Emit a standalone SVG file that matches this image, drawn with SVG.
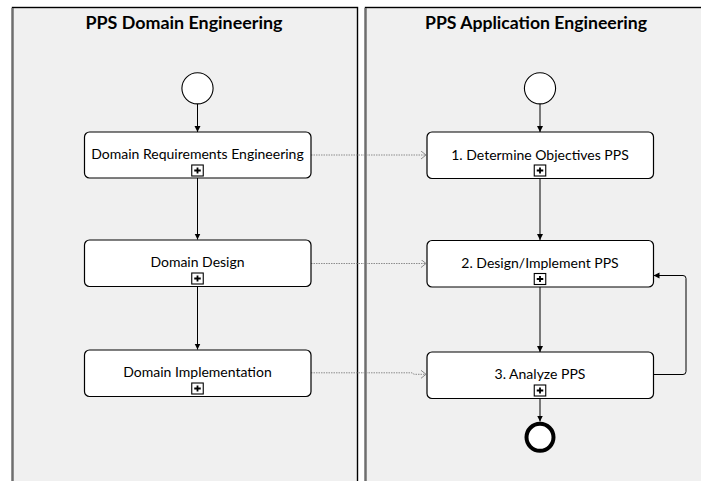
<svg xmlns="http://www.w3.org/2000/svg" width="701" height="481" viewBox="0 0 701 481">
  <style>
    .pool { fill: #f0f0f0; stroke: #000; stroke-width: 1.4; }
    .pool-edge { stroke: #6e6e6e; stroke-width: 2.2; fill: none; }
    .title { font-family: Lato, "Liberation Sans", sans-serif; font-weight: bold; font-size: 16.5px; fill: #000; text-anchor: middle; }
    .task rect.body { fill: #fff; stroke: #000; stroke-width: 1.2; }
    .task text { font-family: Lato, "Liberation Sans", sans-serif; font-size: 14px; fill: #000; text-anchor: middle; }
    .plus rect { fill: #fff; stroke: #000; stroke-width: 1.1; }
    .plus path { stroke: #000; stroke-width: 1.8; fill: none; }
    .flow { stroke: #000; stroke-width: 1; fill: none; marker-end: url(#arrow); }
    .assoc { stroke: #8c8c8c; stroke-width: 1; stroke-dasharray: 1.5 1; fill: none; marker-end: url(#chevron); }
    .start { fill: #fff; stroke: #000; stroke-width: 1.1; }
    .end { fill: #fff; stroke: #000; stroke-width: 4; }
  </style>
  <defs>
    <marker id="arrow" markerWidth="8" markerHeight="8" refX="6" refY="3" orient="auto" markerUnits="userSpaceOnUse">
      <path d="M0,0 L6,3 L0,6 Z" fill="#000"/>
    </marker>
    <marker id="chevron" markerWidth="8" markerHeight="10" refX="5" refY="4" orient="auto" markerUnits="userSpaceOnUse">
      <path d="M0,0 L5,4 L0,8" fill="none" stroke="#8c8c8c" stroke-width="1"/>
    </marker>
    <g id="plus-icon" class="plus">
      <rect x="0" y="0" width="11.5" height="11"/>
      <path d="M2.5,5.5 H9 M5.75,2.5 V8.5"/>
    </g>
  </defs>

  <!-- pools -->
  <g id="pool-domain">
    <rect class="pool" x="12.5" y="7.5" width="345" height="490"/>
    <line class="pool-edge" x1="12.5" y1="8" x2="12.5" y2="481"/>
    <text class="title" x="184" y="29" textLength="197" lengthAdjust="spacingAndGlyphs">PPS Domain Engineering</text>
  </g>
  <g id="pool-application">
    <rect class="pool" x="365.5" y="7.5" width="350" height="490"/>
    <line class="pool-edge" x1="365.5" y1="8" x2="365.5" y2="481"/>
    <text class="title" x="536" y="29" textLength="222" lengthAdjust="spacingAndGlyphs">PPS Application Engineering</text>
  </g>

  <!-- connectors -->
  <g id="connectors">
    <line class="flow" x1="197.5" y1="104" x2="197.5" y2="132"/>
    <line class="flow" x1="197.5" y1="178" x2="197.5" y2="239.5"/>
    <line class="flow" x1="197.5" y1="287" x2="197.5" y2="349.5"/>

    <line class="flow" x1="540" y1="104" x2="540" y2="132"/>
    <line class="flow" x1="540" y1="179" x2="540" y2="240"/>
    <line class="flow" x1="540" y1="287" x2="540" y2="352"/>
    <line class="flow" x1="540" y1="398.5" x2="540" y2="421.5"/>
    <path class="flow" d="M653,374.5 H683 Q686,374.5 686,371.5 V278.5 Q686,275.5 683,275.5 H653.5"/>

    <line class="assoc" x1="311" y1="155" x2="426" y2="155"/>
    <line class="assoc" x1="311" y1="263.5" x2="426" y2="263.5"/>
    <path class="assoc" d="M311,372.8 H412 L414,374.3 H426"/>
  </g>

  <!-- events -->
  <g id="start-domain"><circle class="start" cx="197.5" cy="88.3" r="15.6"/></g>
  <g id="start-application"><circle class="start" cx="540" cy="88.3" r="15.6"/></g>
  <g id="end-application"><circle class="end" cx="540" cy="437.3" r="13.5"/></g>

  <!-- domain engineering tasks -->
  <g id="task-domain-requirements" class="task">
    <rect class="body" x="84.5" y="132" width="226.5" height="46" rx="5"/>
    <text x="197.5" y="159">Domain Requirements Engineering</text>
    <use href="#plus-icon" x="191.75" y="165"/>
  </g>
  <g id="task-domain-design" class="task">
    <rect class="body" x="84.5" y="240" width="226.5" height="46.5" rx="5"/>
    <text x="197.5" y="267">Domain Design</text>
    <use href="#plus-icon" x="191.75" y="273"/>
  </g>
  <g id="task-domain-implementation" class="task">
    <rect class="body" x="84.5" y="350" width="226.5" height="46.5" rx="5"/>
    <text x="197.5" y="377">Domain Implementation</text>
    <use href="#plus-icon" x="191.75" y="383"/>
  </g>

  <!-- application engineering tasks -->
  <g id="task-determine-objectives" class="task">
    <rect class="body" x="427" y="132" width="226.5" height="46.5" rx="5"/>
    <text x="540" y="159.5">1. Determine Objectives PPS</text>
    <use href="#plus-icon" x="534.25" y="165"/>
  </g>
  <g id="task-design-implement" class="task">
    <rect class="body" x="427" y="240.5" width="226.5" height="46.5" rx="5"/>
    <text x="540" y="267.5">2. Design/Implement PPS</text>
    <use href="#plus-icon" x="534.25" y="273.5"/>
  </g>
  <g id="task-analyze" class="task">
    <rect class="body" x="427" y="352" width="226.5" height="46.5" rx="5"/>
    <text x="540" y="379">3. Analyze PPS</text>
    <use href="#plus-icon" x="534.25" y="385"/>
  </g>
</svg>
